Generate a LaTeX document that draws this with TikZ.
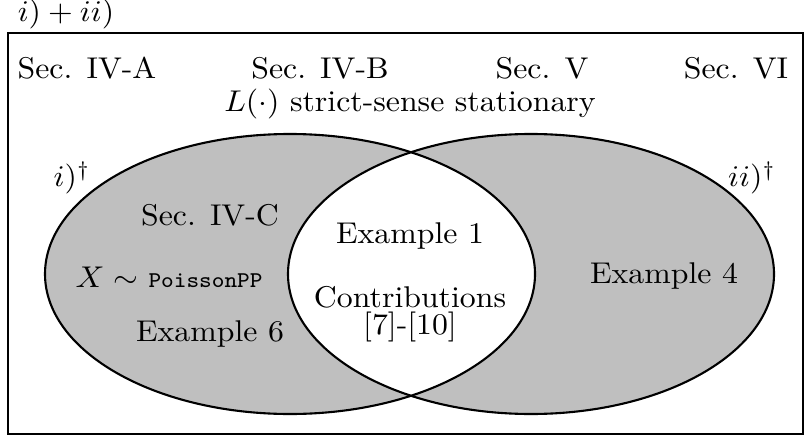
\documentclass[tikz,border=0pt]{standalone}
\begin{document}
\begin{tikzpicture}[x=0.3333pt,y=-0.3333pt,
  lbl/.style={inner sep=0pt,anchor=center,font=\fontsize{10}{12}\selectfont,transform shape,xscale=1.06},
  outline/.style={line width=0.7pt}]
\useasboundingbox (0,0) rectangle (805,439);
\definecolor{vennfill}{gray}{0.75}
\draw[outline] (8,33) rectangle (803,434);
\fill[vennfill] (290,274) ellipse [x radius=245, y radius=140];
\fill[vennfill] (531,274) ellipse [x radius=243, y radius=140];
\begin{scope}
  \clip (290,274) ellipse [x radius=245, y radius=140];
  \fill[white] (531,274) ellipse [x radius=243, y radius=140];
\end{scope}
\draw[outline] (290,274) ellipse [x radius=245, y radius=140];
\draw[outline] (531,274) ellipse [x radius=243, y radius=140];
\node[lbl] (top) at (66,14) {$i) + ii)$};
\node[lbl] (a) at (87,68) {Sec. IV-A};
\node[lbl] (b) at (320,68) {Sec. IV-B};
\node[lbl] (c) at (542,68) {Sec. V};
\node[lbl] (d) at (736,68) {Sec. VI};
\node[lbl] (ssa) at (410,104) {$L(\cdot)$ strict-sense stationary};
\node[lbl] (i) at (72,178) {$i)^\dagger$};
\node[lbl] (ii) at (752,178) {$ii)^\dagger$};
\node[lbl] (ivc) at (210,215) {Sec. IV-C};
\node[lbl] (ex1) at (410,236) {Example 1};
\node[lbl] (pp) at (169,277) {$X\sim$ {\fontsize{7.5}{9}\selectfont\texttt{PoissonPP}}};
\node[lbl] (con) at (410,297) {Contributions};
\node[lbl] (ref) at (410,327) {[7]-[10]};
\node[lbl] (ex6) at (210,334) {Example 6};
\node[lbl] (ex4) at (664,276) {Example 4};
\end{tikzpicture}
\end{document}
